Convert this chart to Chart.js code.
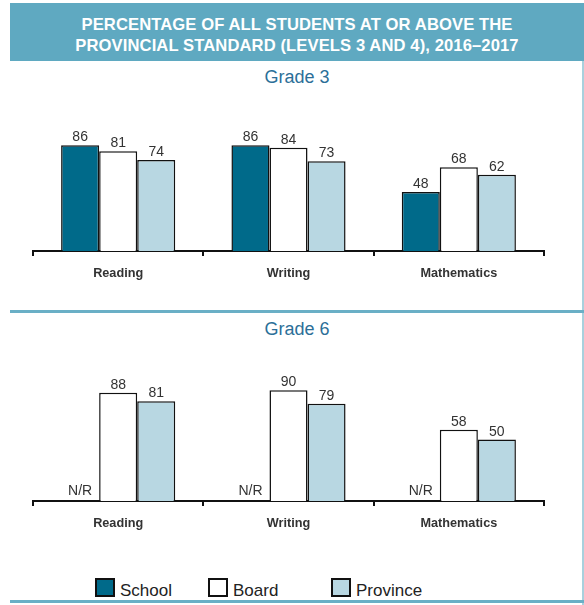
<!DOCTYPE html>
<html>
<head>
<meta charset="utf-8">
<script src="https://cdn.jsdelivr.net/npm/chart.js@4/dist/chart.umd.min.js"></script>
<style>
  body { margin: 0; background: #fff; font-family: "Liberation Sans", Arial, sans-serif; }
  #page { position: relative; width: 584px; height: 605px; overflow: hidden; }
  .header { position: absolute; left: 10px; top: 3px; width: 574px; height: 58px; background: #5fa9c1;
            color: #fff; font-weight: bold; font-size: 16.6px; text-align: center; line-height: 21px;
            padding-top: 11px; box-sizing: border-box; letter-spacing: 0.1px; }
  .rule { position: absolute; left: 10px; width: 574px; height: 3px; background: #6aafc6; }
  .vrule { position: absolute; left: 582px; top: 61px; width: 1.5px; height: 544px; background: #a9d0dd; }
  .grade { position: absolute; left: 10px; width: 574px; text-align: center; color: #2c6f98; font-size: 18px; }
  canvas { position: absolute; }
  .legend { position: absolute; top: 578px; font-size: 17px; color: #222; }
  .legend span.box { position: absolute; top: 0; width: 20px; height: 19px; border: 2.5px solid #111; box-sizing: border-box; }
  .legend span.txt { position: absolute; top: 3px; white-space: nowrap; }
</style>
</head>
<body>
<div id="page">
  <div class="header">PERCENTAGE OF ALL STUDENTS AT OR ABOVE THE<br>PROVINCIAL STANDARD (LEVELS 3 AND 4), 2016–2017</div>
  <div class="vrule"></div>
  <div class="grade" style="top:67px">Grade 3</div>
  <canvas id="grade3" width="531" height="181" style="left:23px; top:100px; width:531px; height:181px"></canvas>
  <div class="rule" style="top:310px"></div>
  <div class="grade" style="top:319px">Grade 6</div>
  <canvas id="grade6" width="531" height="181" style="left:23px; top:350px; width:531px; height:181px"></canvas>
  <div class="legend" style="left:95px"><span class="box" style="left:0; background:#006a8a"></span><span class="txt" style="left:25px">School</span></div>
  <div class="legend" style="left:208px"><span class="box" style="left:0; background:#fff"></span><span class="txt" style="left:25px">Board</span></div>
  <div class="legend" style="left:331px"><span class="box" style="left:0; background:#b8d7e2"></span><span class="txt" style="left:25px">Province</span></div>
  <div class="rule" style="top:600px"></div>
</div>
<script>
// Données
const subjects = ["Reading", "Writing", "Mathematics"];
const seriesNames = ["School", "Board", "Province"];
const seriesColors = ["#006a8a", "#ffffff", "#b8d7e2"];
const grade3School = [86, 86, 48];
const grade3Board = [81, 84, 68];
const grade3Province = [74, 73, 62];
const grade6School = [null, null, null]; // N/R
const grade6Board = [88, 90, 58];
const grade6Province = [81, 79, 50];

// Étiquettes au-dessus des barres (N/R si pas de donnée)
const valueLabels = {
    id: "valueLabels",
    afterDatasetsDraw(chart) {
        const ctx = chart.ctx;
        const baseY = chart.scales.y.getPixelForValue(0);
        ctx.save();
        ctx.font = "14px 'Liberation Sans', Arial, sans-serif";
        ctx.fillStyle = "#333";
        ctx.textAlign = "center";
        ctx.textBaseline = "alphabetic";
        chart.data.datasets.forEach((ds, i) => {
            const meta = chart.getDatasetMeta(i);
            meta.data.forEach((bar, j) => {
                const v = ds.data[j];
                if (v === null) {
                    ctx.fillText("N/R", bar.x, baseY - 6);
                } else {
                    ctx.fillText(String(v), bar.x, bar.y - 4);
                }
            });
        });
        ctx.restore();
    }
};

function makeChart(id, school, board, province) {
    const values = [school, board, province];
    const ctx = document.getElementById(id).getContext("2d");
    return new Chart(ctx, {
        type: "bar",
        data: {
            labels: subjects,
            datasets: seriesNames.map((name, i) => ({
                label: name,
                data: values[i],
                backgroundColor: seriesColors[i],
                borderColor: "#111",
                borderWidth: 1.5,
                categoryPercentage: 0.67,
                barPercentage: 1
            }))
        },
        options: {
            responsive: false,
            animation: false,
            layout: { padding: { top: 28, left: 10, right: 10, bottom: 0 } },
            plugins: { legend: { display: false }, tooltip: { enabled: false } },
            scales: {
                x: {
                    afterFit: (scale) => { scale.height = 30; },
                    border: { display: true, color: "#111", width: 2 },
                    grid: { display: true, offset: true, drawOnChartArea: false, drawTicks: true,
                            tickLength: 5, color: "#111", lineWidth: 2 },
                    ticks: { color: "#333", padding: 10,
                             font: { family: "'Liberation Sans', Arial, sans-serif", size: 12.7, weight: "bold" } }
                },
                y: { display: false, min: 0, max: 100 }
            }
        },
        plugins: [valueLabels]
    });
}

makeChart("grade3", grade3School, grade3Board, grade3Province);
makeChart("grade6", grade6School, grade6Board, grade6Province);
</script>
</body>
</html>
